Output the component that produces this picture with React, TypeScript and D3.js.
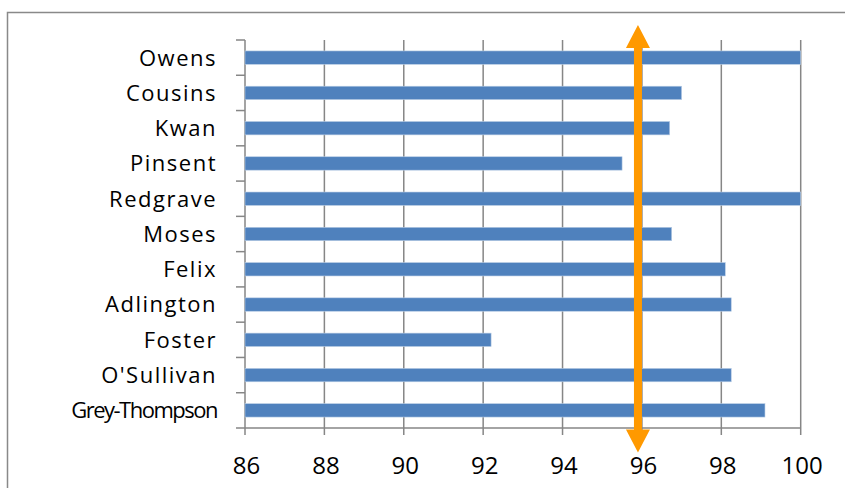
import React, { useLayoutEffect, useRef } from "react";
import * as d3 from "d3";

const names = ["Owens", "Cousins", "Kwan", "Pinsent", "Redgrave", "Moses", "Felix", "Adlington", "Foster", "O'Sullivan", "Grey-Thompson"];
const scores = [100, 97.0, 96.7, 95.5, 100, 96.75, 98.1, 98.25, 92.2, 98.25, 99.1];
const xTicks = [86, 88, 90, 92, 94, 96, 98, 100];
const arrowValue = 95.9;

const W = 845;
const H = 488;
const plot = { left: 245, right: 800.7, top: 40, bottom: 428 };
const FONT = "'Open Sans', Lato, sans-serif";
const LABEL_RIGHT = 217;
const LABEL_MAX_W = 142;
const LABEL_SIZE = 22;

export default function App() {
  const labelsRef = useRef<SVGGElement>(null);
  const x = d3.scaleLinear().domain([86, 100]).range([plot.left, plot.right]);
  const y = d3.scaleBand<string>().domain(names).range([plot.top, plot.bottom]).paddingInner(0.62).paddingOuter(0.31);
  const bandStep = (plot.bottom - plot.top) / names.length;
  const boundaries = d3.range(names.length + 1).map((i) => plot.top + i * bandStep);
  const ax = x(arrowValue);
  const shaftW = 8;
  const headW = 24;
  const headH = 23;
  const topTip = 25;
  const botTip = 452.5;
  const arrowPath = d3.path();
  arrowPath.moveTo(ax, topTip);
  arrowPath.lineTo(ax + headW / 2, topTip + headH);
  arrowPath.lineTo(ax + shaftW / 2, topTip + headH);
  arrowPath.lineTo(ax + shaftW / 2, botTip - headH);
  arrowPath.lineTo(ax + headW / 2, botTip - headH);
  arrowPath.lineTo(ax, botTip);
  arrowPath.lineTo(ax - headW / 2, botTip - headH);
  arrowPath.lineTo(ax - shaftW / 2, botTip - headH);
  arrowPath.lineTo(ax - shaftW / 2, topTip + headH);
  arrowPath.lineTo(ax - headW / 2, topTip + headH);
  arrowPath.closePath();

  useLayoutEffect(() => {
    if (!labelsRef.current) return;
    d3.select(labelsRef.current)
      .selectAll<SVGTextElement, unknown>("text")
      .each(function () {
        const sel = d3.select(this);
        if (this.getComputedTextLength() > LABEL_MAX_W) {
          sel.attr("letter-spacing", 0);
          const len = this.getComputedTextLength();
          const n = (this.textContent || "").length;
          if (len > LABEL_MAX_W && n > 1) {
            sel.attr("letter-spacing", Math.max(-1.5, (LABEL_MAX_W - len) / (n - 1)));
          }
        }
      });
  }, []);

  return (
    <svg width={W} height={H} style={{ position: "absolute", left: 0, top: 0, display: "block" }} fontFamily={FONT}>
      <rect x={0} y={0} width={W} height={H} fill="#fff" />
      <rect x={7.5} y={12.5} width={W + 20} height={H + 20} fill="none" stroke="#898989" strokeWidth={1.5} />
      {xTicks.map((t) => (
        <line key={"g" + t} x1={x(t)} x2={x(t)} y1={plot.top} y2={plot.bottom + 7} stroke="#868686" strokeWidth={1.5} />
      ))}
      <line x1={plot.left} x2={plot.right} y1={plot.bottom} y2={plot.bottom} stroke="#868686" strokeWidth={1.5} />
      {boundaries.map((b, i) => (
        <line key={"t" + i} x1={plot.left - 9} x2={plot.left} y1={b} y2={b} stroke="#868686" strokeWidth={1.5} />
      ))}
      {names.map((n, i) => (
        <rect key={n} x={x(86)} y={y(n)!} width={x(scores[i]) - x(86)} height={y.bandwidth()} fill="#4F81BD" stroke="#B9CDE5" strokeWidth={0.6} />
      ))}
      <g ref={labelsRef}>
        {names.map((n) => (
          <text key={"l" + n} x={LABEL_RIGHT} y={y(n)! + y.bandwidth() / 2} dy="0.36em" textAnchor="end" fontSize={LABEL_SIZE} letterSpacing={1.5} fill="#000">
            {n}
          </text>
        ))}
      </g>
      {xTicks.map((t) => (
        <text key={"x" + t} x={x(t) + 1.5} y={474} textAnchor="middle" fontSize={24} fill="#000">
          {t}
        </text>
      ))}
      <path d={arrowPath.toString()} fill="#FF9900" />
    </svg>
  );
}
